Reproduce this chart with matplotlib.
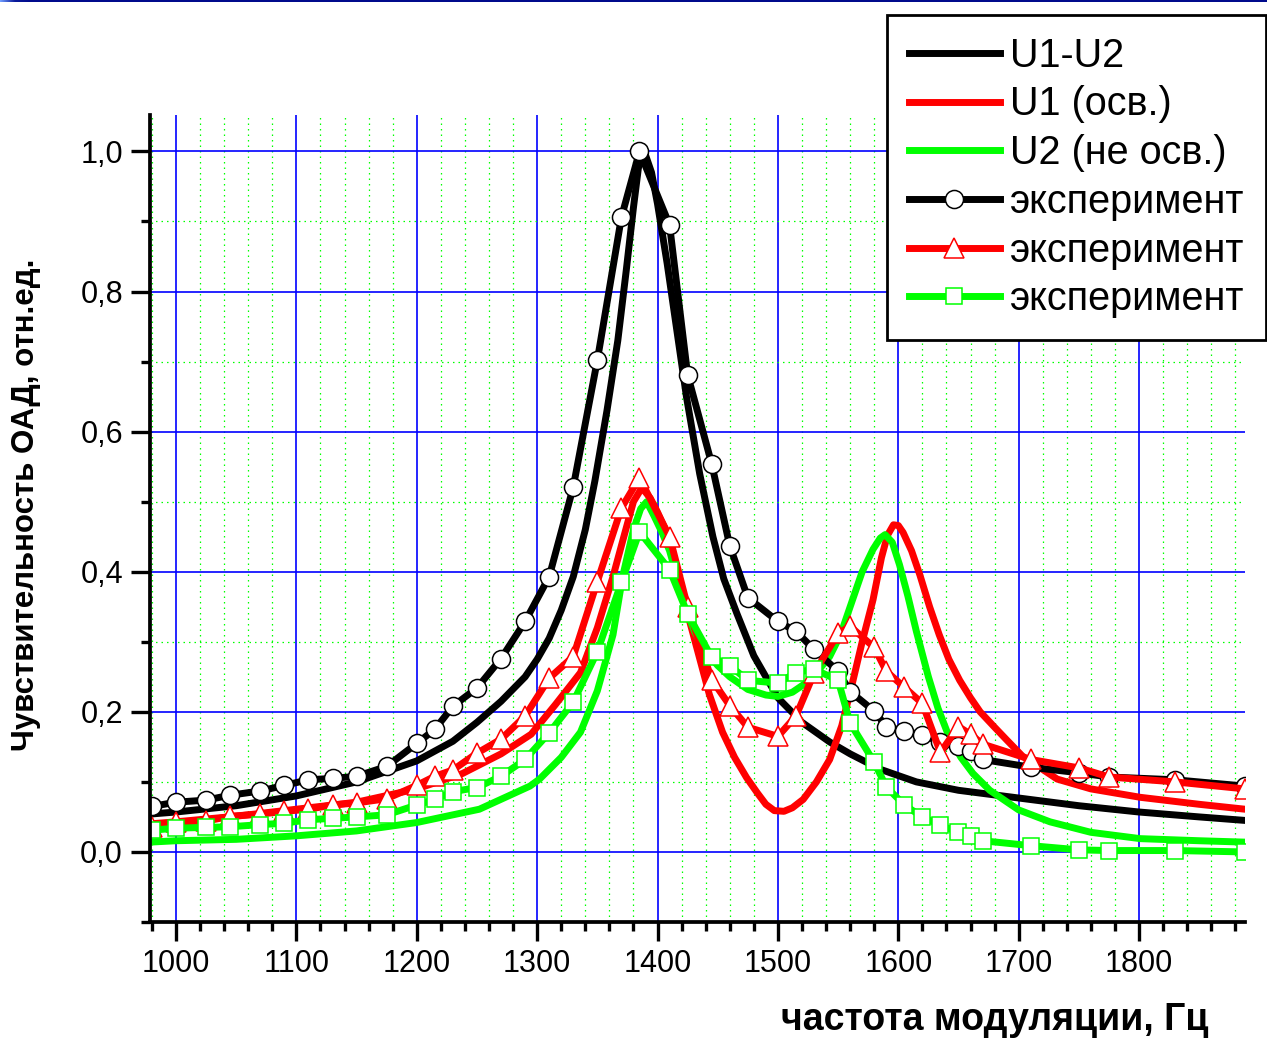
import numpy as np
import matplotlib
matplotlib.use("Agg")
import matplotlib.pyplot as plt
from matplotlib.ticker import MultipleLocator, FuncFormatter
from matplotlib.colors import LinearSegmentedColormap

plt.rcParams['font.family'] = ['Liberation Sans', 'DejaVu Sans']

# ---- theory curves ----
f_u12 = [978, 1000, 1050, 1100, 1150, 1200, 1230, 1250, 1270, 1290, 1300, 1310, 1320,
         1330, 1340, 1348, 1358, 1367, 1374, 1380, 1384, 1387, 1390, 1395, 1400, 1408,
         1416, 1424, 1435, 1446, 1455, 1466, 1480, 1500, 1520, 1543, 1560, 1585, 1615,
         1650, 1700, 1750, 1800, 1850, 1888]
u12 = [0.054, 0.057, 0.066, 0.080, 0.100, 0.130, 0.158, 0.185, 0.215, 0.250, 0.275, 0.305, 0.345,
       0.393, 0.460, 0.530, 0.630, 0.730, 0.830, 0.920, 0.975, 1.000, 0.995, 0.970, 0.925, 0.840,
       0.745, 0.650, 0.540, 0.450, 0.390, 0.340, 0.280, 0.220, 0.185, 0.157, 0.140, 0.118, 0.100,
       0.088, 0.077, 0.066, 0.057, 0.050, 0.045]

f_u1 = [978, 1000, 1050, 1100, 1150, 1200, 1238, 1270, 1295, 1315, 1336, 1350, 1363, 1372,
        1380, 1387, 1394, 1400, 1408, 1416, 1425, 1433, 1443, 1454, 1464, 1474, 1483, 1490,
        1497, 1505, 1512, 1521, 1532, 1543, 1553, 1562, 1570, 1579, 1586, 1591, 1596, 1600,
        1604, 1611, 1618, 1626, 1634, 1642, 1651, 1660, 1668, 1680, 1690, 1703, 1732, 1760,
        1801, 1850, 1888]
u1 = [0.040, 0.043, 0.051, 0.061, 0.071, 0.090, 0.112, 0.140, 0.168, 0.210, 0.256, 0.320, 0.393, 0.450,
      0.500, 0.520, 0.505, 0.485, 0.455, 0.400, 0.340, 0.289, 0.225, 0.171, 0.135, 0.106, 0.084, 0.068,
      0.059, 0.058, 0.063, 0.075, 0.100, 0.132, 0.180, 0.242, 0.300, 0.360, 0.420, 0.452, 0.467, 0.466,
      0.456, 0.430, 0.395, 0.350, 0.310, 0.275, 0.245, 0.220, 0.200, 0.178, 0.160, 0.137, 0.104, 0.090,
      0.078, 0.068, 0.061]

f_u2 = [978, 1000, 1050, 1100, 1150, 1200, 1252, 1294, 1302, 1320, 1336, 1350, 1363, 1371,
        1380, 1386, 1391, 1397, 1404, 1410, 1415, 1420, 1425, 1431, 1437, 1443, 1450, 1460,
        1475, 1490, 1500, 1512, 1524, 1535, 1543, 1552, 1562, 1570, 1579, 1585, 1589, 1595,
        1601, 1608, 1615, 1625, 1633, 1642, 1652, 1662, 1676, 1700, 1726, 1760, 1801, 1850, 1888]
u2 = [0.014, 0.016, 0.018, 0.023, 0.030, 0.042, 0.061, 0.094, 0.104, 0.135, 0.171, 0.230, 0.310, 0.393,
      0.460, 0.490, 0.500, 0.480, 0.455, 0.430, 0.400, 0.368, 0.340, 0.314, 0.295, 0.280, 0.266, 0.250,
      0.232, 0.224, 0.222, 0.228, 0.242, 0.262, 0.279, 0.310, 0.360, 0.400, 0.432, 0.448, 0.453, 0.442,
      0.410, 0.365, 0.315, 0.250, 0.205, 0.165, 0.135, 0.112, 0.088, 0.060, 0.043, 0.028, 0.019, 0.016, 0.014]

# ---- measurements ----
f_exp = [980, 1000, 1025, 1045, 1070, 1090, 1110, 1130, 1150, 1175, 1200, 1215, 1230, 1250,
         1270, 1290, 1310, 1330, 1350, 1370, 1385, 1410, 1425, 1445, 1460, 1475, 1500, 1515,
         1530, 1550, 1560, 1580, 1590, 1605, 1620, 1635, 1650, 1660, 1670, 1710, 1750, 1775,
         1830, 1888]
exp_u12 = [0.065, 0.071, 0.074, 0.081, 0.087, 0.095, 0.103, 0.105, 0.108, 0.122, 0.155, 0.175, 0.208, 0.234,
           0.276, 0.329, 0.393, 0.521, 0.702, 0.906, 1.000, 0.895, 0.681, 0.554, 0.437, 0.363, 0.329, 0.315,
           0.289, 0.258, 0.229, 0.201, 0.179, 0.172, 0.167, 0.157, 0.151, 0.144, 0.132, 0.121, 0.113, 0.107,
           0.103, 0.094]
exp_u1 = [0.036, 0.043, 0.044, 0.051, 0.054, 0.058, 0.061, 0.067, 0.070, 0.076, 0.095, 0.108, 0.117, 0.141,
          0.161, 0.194, 0.248, 0.279, 0.386, 0.491, 0.534, 0.450, 0.350, 0.246, 0.209, 0.178, 0.165, 0.194,
          0.255, 0.312, 0.322, 0.292, 0.258, 0.235, 0.212, 0.142, 0.179, 0.168, 0.154, 0.132, 0.120, 0.107,
          0.100, 0.090]
exp_u2 = [0.031, 0.034, 0.035, 0.036, 0.039, 0.041, 0.046, 0.048, 0.050, 0.053, 0.067, 0.075, 0.086, 0.092,
          0.108, 0.132, 0.170, 0.214, 0.286, 0.385, 0.457, 0.403, 0.340, 0.278, 0.266, 0.245, 0.241, 0.256,
          0.261, 0.245, 0.184, 0.128, 0.093, 0.067, 0.050, 0.038, 0.028, 0.023, 0.016, 0.009, 0.003, 0.002,
          0.002, 0.000]

labels = ["U1-U2", "U1 (осв.)", "U2 (не осв.)", "эксперимент", "эксперимент", "эксперимент"]
x_ticks = [1000, 1100, 1200, 1300, 1400, 1500, 1600, 1700, 1800]
y_ticks = [0.0, 0.2, 0.4, 0.6, 0.8, 1.0]

BLACK, RED, GREEN = "#000000", "#FF0000", "#00FF00"

W, H = 1267, 1040
fig = plt.figure(figsize=(W / 100, H / 100), dpi=100)
ax = fig.add_axes([150 / W, 1 - 922 / H, (1245 - 150) / W, (922 - 115) / H])

# thin gradient rule along the top edge of the page
top = fig.add_axes([0, 1 - 2 / H, 1, 2 / H])
cmap = LinearSegmentedColormap.from_list("rule", ["#6f9cff", "#0a1a9a", "#000a8c"])
grad = np.concatenate([np.linspace(0, 1, 30), np.ones(W - 30)])[None, :]
top.imshow(grad, aspect="auto", cmap=cmap, extent=[0, 1, 0, 1])
top.axis("off")

lw = 5.0
ax.plot(f_u12, u12, color=BLACK, lw=lw, label=labels[0], zorder=3)
ax.plot(f_u1, u1, color=RED, lw=lw, label=labels[1], zorder=3)
ax.plot(f_u2, u2, color=GREEN, lw=lw, label=labels[2], zorder=3)

ax.plot(f_exp, exp_u12, color=BLACK, lw=lw, marker="o", ms=13, mfc="white", mec=BLACK,
        mew=1.1, label=labels[3], zorder=4)
ax.plot(f_exp, exp_u1, color=RED, lw=lw, marker="^", ms=14.5, mfc="white", mec=RED,
        mew=1.1, label=labels[4], zorder=5)
ax.plot(f_exp, exp_u2, color=GREEN, lw=lw, marker="s", ms=12, mfc="white", mec=GREEN,
        mew=1.1, label=labels[5], zorder=6)

ax.set_xlim(978.4, 1888)
ax.set_ylim(-0.1, 1.052)

ax.set_xticks(x_ticks)
ax.set_yticks(y_ticks)
ax.xaxis.set_minor_locator(MultipleLocator(20))
ax.yaxis.set_minor_locator(MultipleLocator(0.1))
ax.yaxis.set_major_formatter(FuncFormatter(lambda v, p: f"{v:.1f}".replace(".", ",")))

ax.grid(which="major", color="#0000FF", lw=1.2, ls="-", zorder=1)
ax.grid(which="minor", color="#00FF00", lw=0.9, ls=(0, (1.2, 3.2)), zorder=1)
ax.set_axisbelow(True)

for side in ("top", "right"):
    ax.spines[side].set_visible(False)
for side in ("left", "bottom"):
    ax.spines[side].set_linewidth(2.7)
    ax.spines[side].set_zorder(7)

ax.tick_params(which="major", direction="out", length=13.5, width=2.4, labelsize=22, pad=6)
ax.tick_params(which="minor", direction="out", length=6.5, width=2.4)

fig.text(995 / W, 1 - 1030 / H, "частота модуляции, Гц", ha="center", va="baseline",
         fontsize=27, fontweight="bold")
fig.text(26 / W, 1 - 505 / H, "Чувствительность ОАД, отн.ед.", ha="center", va="center",
         rotation=90, fontsize=22.5, fontweight="bold")

leg = ax.legend(loc="upper right", bbox_to_anchor=(1266 / W, 1 - 15 / H),
                bbox_transform=fig.transFigure, fontsize=28.5, frameon=True, fancybox=False,
                framealpha=1, edgecolor="black", handlelength=2.3, handletextpad=0.25,
                labelspacing=0.27, borderpad=0.55, borderaxespad=0, numpoints=1)
leg.get_frame().set_linewidth(2.0)
leg.set_zorder(10)

fig.savefig("out.png", dpi=100)
